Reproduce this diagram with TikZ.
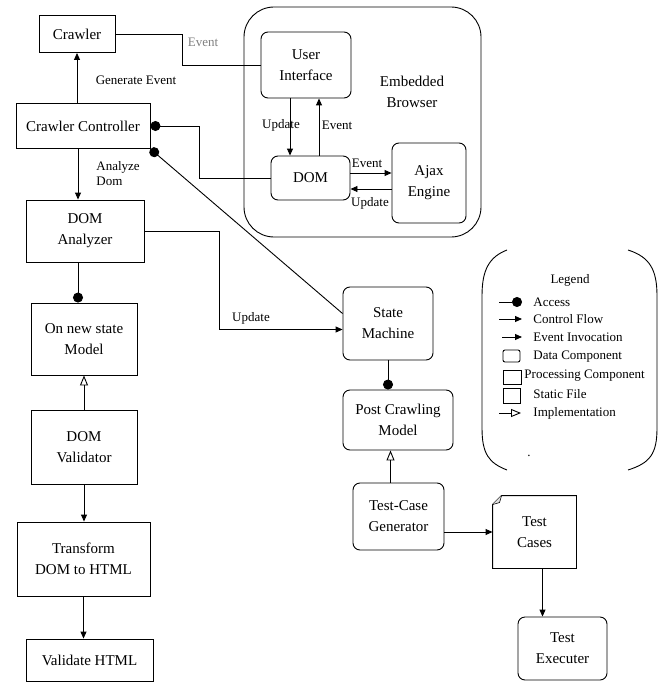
\documentclass[tikz,border=0pt]{standalone}
\usepackage{fontspec}
\setmainfont{Liberation Serif}
\usetikzlibrary{arrows.meta}

\begin{document}
\begin{tikzpicture}[x=1pt,y=-1pt,line width=0.9pt]
		\tikzstyle{every node}+=[inner sep=0pt,align=center,font=\fontsize{15}{21}\selectfont]
		\tikzstyle{proc}=[draw,rectangle]
		\tikzstyle{data}=[draw,rectangle,rounded corners=7pt]
		\tikzstyle{lbl}=[font=\fontsize{13}{15}\selectfont]
		\tikzstyle{flow}=[-{Triangle[length=7pt,width=6pt]}]
		\tikzstyle{access}=[-{Circle[length=10pt]}]
		\tikzstyle{impl}=[-{Triangle[open,length=10pt,width=8pt]}]
		\useasboundingbox (0,0) rectangle (662,682);
		\node [draw,rounded corners=30pt,minimum width=237,minimum height=230] (browser) at (362.5,122) {};
		\node (ebtext) at (412,92) {Embedded\\Browser};
		\node [proc,minimum width=76,minimum height=37] (crawler) at (77,34) {Crawler};
		\node [proc,minimum width=134,minimum height=45] (ctrl) at (83,126) {Crawler Controller};
		\node [proc,minimum width=118,minimum height=62] (an) at (85,231) {DOM\\Analyzer};
		\node [proc,minimum width=106,minimum height=72] (onm) at (84,339) {On new state\\Model};
		\node [proc,minimum width=106,minimum height=74] (val) at (84,447) {DOM\\Validator};
		\node [proc,minimum width=133,minimum height=74] (tr) at (83.5,559) {Transform\\DOM to HTML};
		\node [proc,minimum width=127,minimum height=42] (vh) at (89.5,660) {Validate HTML};
		\node [data,minimum width=90,minimum height=66] (ui) at (306,65) {User\\Interface};
		\node [data,minimum width=79,minimum height=44] (dom) at (310.5,178) {DOM};
		\node [data,minimum width=74,minimum height=80] (ajax) at (429,183) {Ajax\\Engine};
		\node [data,minimum width=90,minimum height=73] (sm) at (388,323.5) {State\\Machine};
		\node [data,minimum width=110,minimum height=60] (pcm) at (398,420) {Post Crawling\\Model};
		\node [data,minimum width=91,minimum height=67] (gen) at (398.5,516.5) {Test-Case\\Generator};
		\node [minimum width=83,minimum height=72] (tc) at (534.5,532) {Test\\Cases};
		\draw ([xshift=9pt]tc.north west) -- (tc.north east) -- (tc.south east) -- (tc.south west) -- ([yshift=-9pt]tc.north west) -- cycle;
		\draw [fill=gray!25,line width=0.6pt] ([yshift=-9pt]tc.north west) -- ([xshift=7pt,yshift=-7pt]tc.north west) -- ([xshift=9pt]tc.north west);
		\node [data,minimum width=89,minimum height=63] (exec) at (562.5,648.5) {Test\\Executer};
		\draw (crawler.east) -- ++(67,0) |- (ui.west);
		\node [lbl,text=gray] (l1) at (203,42) {Event};
		\draw [flow] (crawler.south |- ctrl.north) -- (crawler.south);
		\node [lbl] (l2) at (136,80) {Generate Event};
		\draw [access] (dom.west) -- ++(-71,0) |- (ctrl.east);
		\draw [access] ([yshift=10pt]sm.west) -- (ctrl.south east);
		\coordinate (c1) at ([xshift=-5pt]ctrl.south);
		\draw [flow] (c1) -- (c1 |- an.north);
		\node [lbl,anchor=west,align=left] (l3) at (96,174) {Analyze\\Dom};
		\draw [flow] (an.east) -- ++(75,0) |- ([yshift=-6pt]sm.west);
		\node [lbl] (l4) at (251,318) {Update};
		\coordinate (u1) at ([xshift=-16pt]ui.south);
		\coordinate (u2) at ([xshift=13pt]ui.south);
		\draw [flow] (u1) -- (u1 |- dom.north);
		\draw [flow] (u2 |- dom.north) -- (u2);
		\node [lbl] (l5) at (281,125) {Update};
		\node [lbl] (l6) at (337,125) {Event};
		\draw [flow] ([yshift=5pt]dom.east) -- ([yshift=5pt]dom.east -| ajax.west);
		\draw [flow] ([yshift=-11pt]dom.east -| ajax.west) -- ([yshift=-11pt]dom.east);
		\node [lbl] (l7) at (367,163) {Event};
		\node [lbl] (l8) at (370,203) {Update};
		\coordinate (a1) at ([xshift=-7pt]an.south);
		\draw [access] (a1) -- (a1 |- onm.north);
		\draw [impl] (val.north) -- (val.north |- onm.south);
		\draw [flow] (val.south) -- (val.south |- tr.north);
		\draw [flow] (tr.south) -- (tr.south |- vh.north);
		\draw [access] (sm.south) -- (sm.south |- pcm.north);
		\coordinate (g1) at ([xshift=-8pt]gen.north);
		\draw [impl] (g1) -- (g1 |- pcm.south);
		\draw [flow] (gen.east |- tc.west) -- (tc.west);
		\coordinate (t1) at ([xshift=8pt]tc.south);
		\draw [flow] (t1) -- (t1 |- exec.north);
		\draw (507,250) .. controls (489,257) and (482,270) .. (482,296) -- (482,428) .. controls (482,454) and (489,463) .. (507,470);
		\draw (628,250) .. controls (650,257) and (657,270) .. (657,296) -- (657,428) .. controls (657,454) and (650,463) .. (628,470);
		\node [lbl] (lg) at (570,280) {Legend};
		\node [lbl,anchor=west] (lacc) at (533,302) {Access};
		\node [lbl,anchor=west] (lcf) at (533,319) {Control Flow};
		\node [lbl,anchor=west] (lev) at (533,337) {Event Invocation};
		\node [lbl,anchor=west] (ldc) at (533,357) {Data Component};
		\node [lbl,anchor=west] (lpc) at (524,376) {Processing Component};
		\node [lbl,anchor=west] (lsf) at (533,394) {Static File};
		\node [lbl,anchor=west] (lim) at (533,413) {Implementation};
		\node [lbl] (ldot) at (529,456) {.};
		\draw [access] ([xshift=-34pt]lacc.west) -- ([xshift=-11pt]lacc.west);
		\draw [flow] ([xshift=-34pt]lcf.west) -- ([xshift=-11pt]lcf.west);
		\draw [flow] ([xshift=-31pt]lev.west) -- ([xshift=-11pt]lev.west);
		\draw [impl] ([xshift=-34pt]lim.west) -- ([xshift=-12pt]lim.west);
		\node [data,rounded corners=2pt,minimum width=17,minimum height=12] (sdc) at (511.5,356) {};
		\node [proc,minimum width=18,minimum height=14] (spc) at (512,377) {};
		\node [proc,minimum width=17,minimum height=15] (ssf) at (511.5,395.5) {};
	\end{tikzpicture}
\end{document}
